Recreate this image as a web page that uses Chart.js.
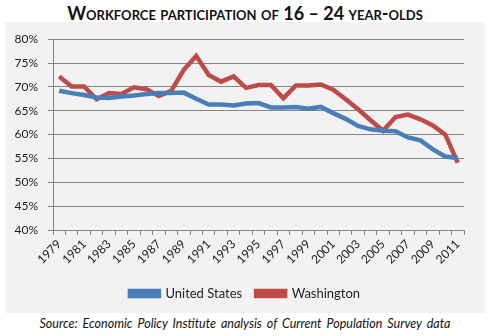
<!DOCTYPE html>
<html>
<head>
<meta charset="utf-8">
<script src="https://cdn.jsdelivr.net/npm/chart.js@4.4.0/dist/chart.umd.min.js"></script>
<style>
  body { margin: 0; background: #fff; width: 490px; height: 336px; position: relative; overflow: hidden; }
  #title { position: absolute; left: 0; top: 2px; width: 490px; text-align: center;
    font: bold 18px Lato, sans-serif; font-variant: small-caps; color: #111; }
  #box { position: absolute; left: 5px; top: 22px; width: 480px; height: 291px; background: #f2f2f2; }
  #source { position: absolute; left: 0; top: 316px; width: 490px; text-align: center;
    font: italic 12.5px Lato, sans-serif; color: #111; word-spacing: 2px; }
</style>
</head>
<body>
<div id="title">Workforce participation of 16 – 24 year-olds</div>
<div id="box"><canvas id="canvas" width="480" height="291"></canvas></div>
<div id="source">Source: Economic Policy Institute analysis of Current Population Survey data</div>
<script>
const years = [];
for (let y = 1979; y <= 2011; y++) years.push(String(y));

const unitedStates = [69.2, 68.7, 68.3, 67.8, 67.7, 68.0, 68.2, 68.5, 68.7, 68.7,
  68.8, 67.5, 66.3, 66.3, 66.1, 66.5, 66.6, 65.7, 65.7, 65.8,
  65.4, 65.8, 64.5, 63.3, 61.8, 61.1, 60.8, 60.7, 59.4, 58.8,
  56.9, 55.4, 55.1];

const washington = [72.2, 70.1, 70.1, 67.4, 68.7, 68.5, 69.9, 69.5, 68.1, 69.2,
  73.6, 76.5, 72.5, 71.1, 72.2, 69.8, 70.4, 70.4, 67.6, 70.3,
  70.3, 70.5, 69.4, 67.4, 65.3, 63.0, 60.8, 63.7, 64.2, 63.2,
  61.9, 60.0, 54.1];

const yTicks = [40, 45, 50, 55, 60, 65, 70, 75, 80];

const blue = "#4a7ebb";
const red = "#be4b48";
const gridColor = "#868686";
const font = { family: "Lato, sans-serif", size: 12 };

new Chart(document.getElementById("canvas").getContext("2d"), {
  type: "line",
  data: {
    labels: years,
    datasets: [
      { label: "United States", data: unitedStates, borderColor: blue, backgroundColor: blue,
        borderWidth: 4.5, pointRadius: 0, tension: 0 },
      { label: "Washington", data: washington, borderColor: red, backgroundColor: red,
        borderWidth: 4.5, pointRadius: 0, tension: 0 }
    ]
  },
  options: {
    responsive: false,
    animation: false,
    layout: { padding: { top: 16, right: 0, bottom: 3, left: 0 } },
    plugins: {
      title: { display: false },
      tooltip: { enabled: false },
      legend: {
        position: "bottom",
        labels: { boxWidth: 29, boxHeight: 5, color: "#222", font: { family: "Lato, sans-serif", size: 13 }, padding: 14 }
      }
    },
    scales: {
      x: {
        offset: true,
        border: { color: gridColor },
        grid: { offset: true, drawOnChartArea: false, drawTicks: true, tickLength: 5, color: gridColor },
        ticks: {
          autoSkip: false, maxRotation: 45, minRotation: 45, color: "#222", font: font, padding: 2,
          callback: function (v, i) { return i % 2 === 0 ? years[i] : ""; }
        },
        afterFit: function (s) { s.height = 43; }
      },
      y: {
        min: 40, max: 80,
        border: { color: gridColor },
        grid: { color: gridColor, tickLength: 5 },
        afterBuildTicks: function (s) { s.ticks = yTicks.map(v => ({ value: v })); },
        ticks: { color: "#222", font: font, padding: 10, callback: v => v + "%" },
        afterFit: function (s) { s.width = 48; }
      },
      yRight: {
        position: "right",
        min: 40, max: 80,
        border: { display: false },
        grid: { display: false },
        ticks: { display: false },
        afterFit: function (s) { s.width = 21; }
      }
    }
  }
});
</script>
</body>
</html>
